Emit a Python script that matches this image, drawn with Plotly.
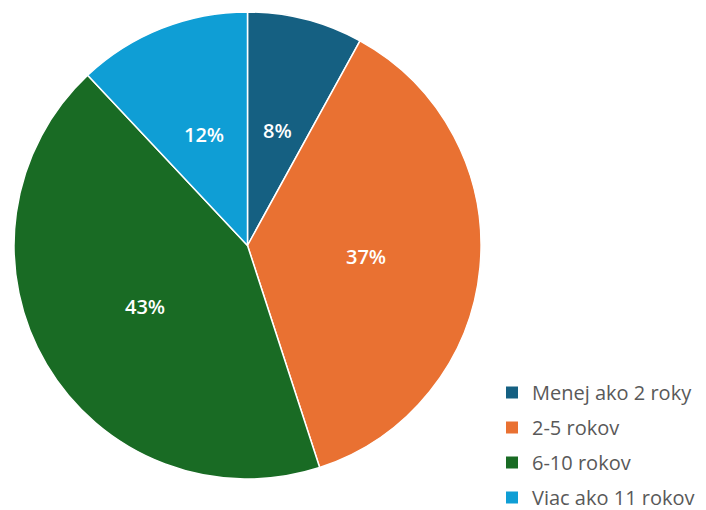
import math
import plotly.graph_objects as go

# Years of experience distribution
categories = ["Menej ako 2 roky", "2-5 rokov", "6-10 rokov", "Viac ako 11 rokov"]
values = [8, 37, 43, 12]
colors = ["#156082", "#E97132", "#196B24", "#0F9ED5"]

W, H = 706, 510

# Pie box in pixels (left, right, top, bottom)
px_l, px_r, px_t, px_b = 14, 481, 12, 479
cx = (px_l + px_r) / 2
cy = (px_t + px_b) / 2
R = min(px_r - px_l, px_b - px_t) / 2

fig = go.Figure()

fig.add_trace(go.Pie(
    labels=categories,
    values=values,
    sort=False,
    direction="clockwise",
    rotation=0,
    marker=dict(colors=colors, line=dict(color="white", width=1.5)),
    textinfo="none",
    hoverinfo="label+percent",
    showlegend=False,
    domain=dict(x=[px_l / W, px_r / W], y=[(H - px_b) / H, (H - px_t) / H]),
))

# Percentage labels at half radius along each slice's bisector
total = sum(values)
cum = 0
for v in values:
    mid = (cum + v / 2) / total * 2 * math.pi
    cum += v
    lx = cx + 0.51 * R * math.sin(mid)
    ly = cy - 0.51 * R * math.cos(mid)
    fig.add_annotation(
        x=lx / W, y=1 - ly / H, xref="paper", yref="paper",
        xanchor="center", yanchor="middle",
        text=f"{round(v / total * 100)}%", showarrow=False,
        font=dict(family="Open Sans", size=20, color="white", weight=600),
    )

# Legend entries, one group per category so the items can be spaced out
for name, col in zip(categories, colors):
    fig.add_trace(go.Scatter(
        x=[None], y=[None], mode="markers", name=name, legendgroup=name,
        marker=dict(symbol="square", size=12, color=col),
    ))

fig.update_layout(
    width=W, height=H,
    margin=dict(l=0, r=0, t=0, b=0, autoexpand=False),
    paper_bgcolor="white",
    plot_bgcolor="white",
    xaxis=dict(visible=False),
    yaxis=dict(visible=False),
    legend=dict(
        x=492 / W, xanchor="left",
        y=-7 / H, yanchor="bottom",
        font=dict(family="Open Sans", size=20, color="#595959"),
        tracegroupgap=6,
        bgcolor="rgba(0,0,0,0)",
    ),
)

fig.write_html("out.html")
